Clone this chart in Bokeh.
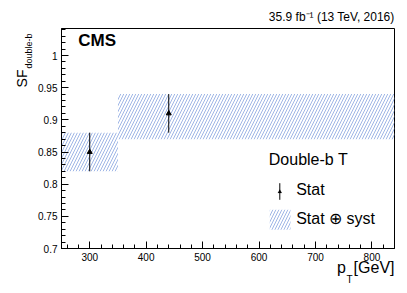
import math
from bokeh.plotting import figure
from bokeh.models import (Label, BoxAnnotation, PolyAnnotation, Arrow, SingleIntervalTicker,
                          CustomJSTickFormatter, Range1d, Title)
from bokeh.embed import file_html
from bokeh.resources import INLINE

# ---- data ----
bin_low = [250, 350]
bin_high = [350, 840]
pt_center = [300, 440]
sf = [0.85, 0.91]
stat_low = [0.82, 0.88]
stat_high = [0.88, 0.94]
tot_low = [0.82, 0.87]
tot_high = [0.88, 0.94]

x_lim = (250, 840)
y_lim = (0.7, 1.042)

FONT = "Liberation Sans"
HATCH = "#9fb6e6"

p = figure(width=407, height=293, output_backend="svg", toolbar_location=None,
           x_range=Range1d(*x_lim), y_range=Range1d(*y_lim),
           min_border_left=61, min_border_right=13, min_border_top=28, min_border_bottom=45)
p.xgrid.visible = False
p.ygrid.visible = False
p.outline_line_color = "black"
p.outline_line_width = 1
p.background_fill_color = "white"
p.border_fill_color = "white"

p.xaxis.ticker = SingleIntervalTicker(interval=100, num_minor_ticks=5)
p.yaxis.ticker = SingleIntervalTicker(interval=0.05, num_minor_ticks=5)
p.yaxis.formatter = CustomJSTickFormatter(code="return String(Number(tick.toFixed(2)));")
for ax in (p.xaxis[0], p.yaxis[0]):
    ax.major_tick_in = 7
    ax.major_tick_out = 0
    ax.minor_tick_in = 4
    ax.minor_tick_out = 0
    ax.major_tick_line_color = "black"
    ax.minor_tick_line_color = "black"
    ax.axis_line_color = "black"
    ax.major_label_text_font = FONT
    ax.major_label_text_font_size = "10px"
    ax.major_label_text_color = "black"
    ax.major_label_standoff = 4

# total uncertainty bands (hatched)
p.quad(left=bin_low, right=bin_high, bottom=tot_low, top=tot_high,
       fill_color=None, line_color=None, hatch_pattern="/", hatch_color=HATCH,
       hatch_scale=6, hatch_weight=1)
# stat error bars
p.segment(x0=pt_center, y0=stat_low, x1=pt_center, y1=stat_high,
          line_color="black", line_width=1)
p.scatter(pt_center, sf, marker="triangle", size=5, color="black")

# ---- texts outside the frame: titles in the side panels ----
p.title.text = "35.9 fb\u207b\u00b9 (13 TeV, 2016)"
p.title.align = "right"
p.title.vertical_align = "bottom"
p.title.text_font = FONT
p.title.text_font_size = "12px"
p.title.text_font_style = "normal"
p.title.text_color = "black"
p.title.standoff = 10


def side_title(text, side, size, standoff, offset, valign):
    t = Title(text=text, align="right", vertical_align=valign, offset=offset,
              standoff=standoff, text_font=FONT, text_font_size=size,
              text_font_style="normal", text_color="black")
    p.add_layout(t, side)


side_title("double-b", "left", "9px", 3, 5, "bottom")
side_title("SF", "left", "14px", -18, 41, "bottom")
side_title("p\u00a0\u2009[GeV]", "below", "16px", -9, 0, "top")
side_title("T", "below", "10px", 1, 42, "top")

# ---- texts inside the frame ----
FX, FY = 61, 248


def lab(text, X, Y, size, **kw):
    p.add_layout(Label(x=X - FX, y=FY - Y, x_units="screen", y_units="screen",
                       text=text, text_font=FONT, text_font_size=size,
                       text_color="black", **kw))


lab("CMS", 77.7, 49.3, "17px", text_font_style="bold")

# legend
lab("Double-b T", 268.3, 167.3, "16px")
lab("Stat", 295.7, 197.3, "16px")
lab("Stat \u2295 syst", 295.7, 226, "16px")
p.add_layout(BoxAnnotation(left=269.3 - FX, right=290 - FX, bottom=FY - 229.3, top=FY - 209.3,
                           left_units="screen", right_units="screen",
                           bottom_units="screen", top_units="screen",
                           fill_color=None, line_color=None, hatch_pattern="/",
                           hatch_color=HATCH, hatch_scale=6, hatch_weight=1))
p.add_layout(Arrow(x_start=279.3 - FX, y_start=FY - 199.3, x_end=279.3 - FX, y_end=FY - 182.7,
                   start_units="screen", end_units="screen", start=None, end=None,
                   line_color="black", line_width=1))
p.add_layout(PolyAnnotation(xs=[277.3 - FX, 281.3 - FX, 279.3 - FX],
                            ys=[FY - 192.5, FY - 192.5, FY - 189],
                            xs_units="screen", ys_units="screen",
                            fill_color="black", fill_alpha=1, line_color="black", line_width=0.5))

open("out.html", "w").write(file_html(p, INLINE))
